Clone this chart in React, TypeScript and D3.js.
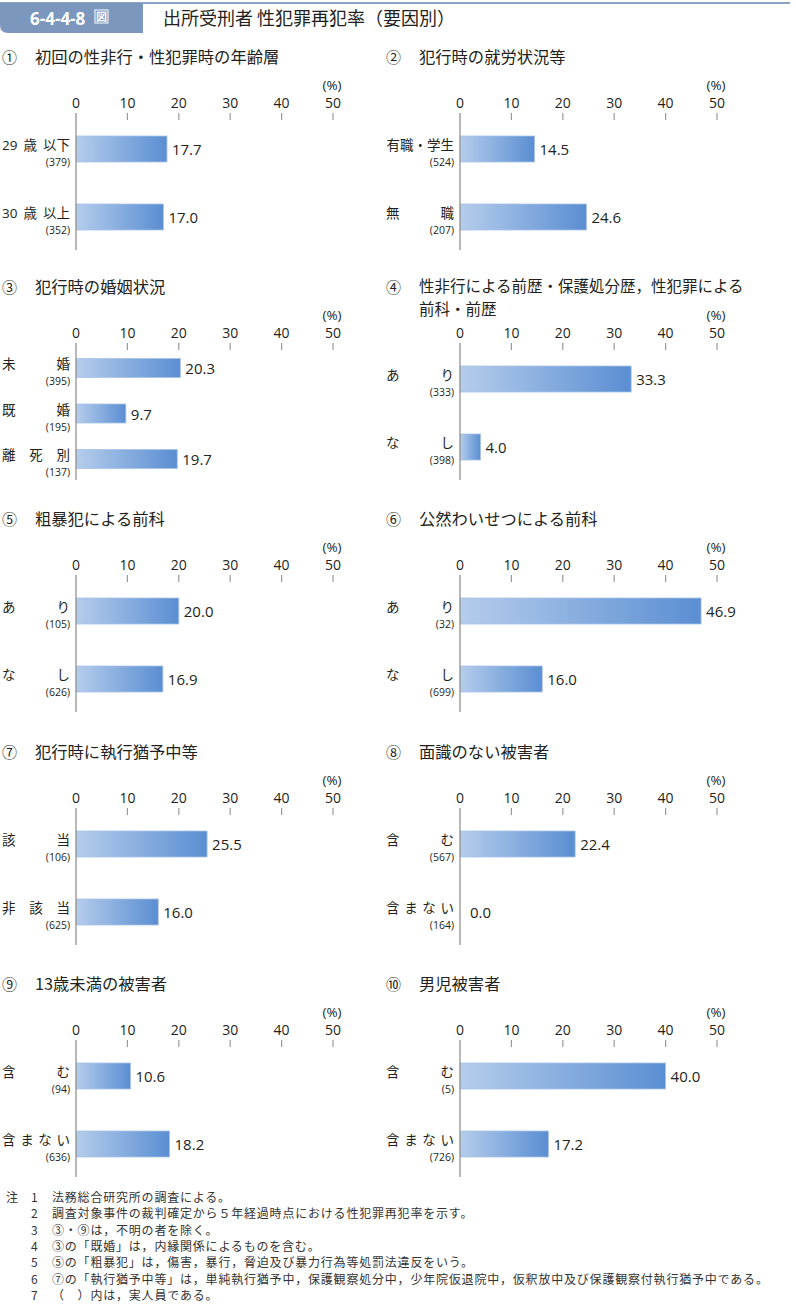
import React from 'react';
import * as d3 from 'd3';

const panelNumbers = ['①', '②', '③', '④', '⑤', '⑥', '⑦', '⑧', '⑨', '⑩'];
const panelTitles = [
  ['初回の性非行・性犯罪時の年齢層'],
  ['犯行時の就労状況等'],
  ['犯行時の婚姻状況'],
  ['性非行による前歴・保護処分歴，性犯罪による', '前科・前歴'],
  ['粗暴犯による前科'],
  ['公然わいせつによる前科'],
  ['犯行時に執行猶予中等'],
  ['面識のない被害者'],
  ['13歳未満の被害者'],
  ['男児被害者'],
];
const panelCategories = [
  [['29', '歳', '以下'], ['30', '歳', '以上']],
  [['有職・学生'], ['無', '職']],
  [['未', '婚'], ['既', '婚'], ['離', '死', '別']],
  [['あ', 'り'], ['な', 'し']],
  [['あ', 'り'], ['な', 'し']],
  [['あ', 'り'], ['な', 'し']],
  [['該', '当'], ['非', '該', '当']],
  [['含', 'む'], ['含', 'ま', 'な', 'い']],
  [['含', 'む'], ['含', 'ま', 'な', 'い']],
  [['含', 'む'], ['含', 'ま', 'な', 'い']],
];
const panelCounts = [
  [379, 352], [524, 207], [395, 195, 137], [333, 398], [105, 626],
  [32, 699], [106, 625], [567, 164], [94, 636], [5, 726],
];
const panelValues = [
  [17.7, 17.0], [14.5, 24.6], [20.3, 9.7, 19.7], [33.3, 4.0], [20.0, 16.9],
  [46.9, 16.0], [25.5, 16.0], [22.4, 0.0], [10.6, 18.2], [40.0, 17.2],
];
const xTicks = [0, 10, 20, 30, 40, 50];
const figureId = '6-4-4-8';
const figureTitle = '出所受刑者 性犯罪再犯率（要因別）';
const noteNumbers = ['1', '2', '3', '4', '5', '6', '7'];
const notes = [
  '法務総合研究所の調査による。',
  '調査対象事件の裁判確定から５年経過時点における性犯罪再犯率を示す。',
  '③・⑨は，不明の者を除く。',
  '③の「既婚」は，内縁関係によるものを含む。',
  '⑤の「粗暴犯」は，傷害，暴行，脅迫及び暴力行為等処罰法違反をいう。',
  '⑦の「執行猶予中等」は，単純執行猶予中，保護観察処分中，少年院仮退院中，仮釈放中及び保護観察付執行猶予中である。',
  '（　）内は，実人員である。',
];

const FONT = '"Noto Sans CJK JP", "Noto Sans", sans-serif';
const NUMFONT = '"Open Sans", "Noto Sans CJK JP", sans-serif';
const TEXT = '#231f20';
const AXIS = '#9a9a9a';

const rowAxisTop = [113, 343, 575, 808, 1040];
const colOffset = [0, 384];

function tokenWidth(t: string, fs: number) {
  let w = 0;
  for (const ch of t) w += /[\x00-\x7f]/.test(ch) ? fs * 0.57 : fs;
  return w;
}

function CategoryLabel({ tokens, L, R, y, fs }: { tokens: string[]; L: number; R: number; y: number; fs: number }) {
  if (tokens.length === 1) {
    return (
      <text x={R} y={y} textAnchor="end" fontSize={fs} fill={TEXT} fontFamily={FONT}>
        {tokens[0]}
      </text>
    );
  }
  const widths = tokens.map((t) => tokenWidth(t, fs));
  const total = d3.sum(widths);
  const gap = (R - L - total) / (tokens.length - 1);
  let cx = L;
  const xs: number[] = [];
  widths.forEach((w) => {
    xs.push(cx);
    cx += w + gap;
  });
  return (
    <g>
      {tokens.map((t, i) => (
        <text
          key={i}
          x={xs[i]}
          y={y}
          fontSize={fs}
          fill={TEXT}
          fontFamily={/^[0-9]+$/.test(t) ? NUMFONT : FONT}
        >
          {t}
        </text>
      ))}
    </g>
  );
}

function Panel({ idx }: { idx: number }) {
  const row = Math.floor(idx / 2);
  const col = idx % 2;
  const ox = colOffset[col];
  const top = rowAxisTop[row];
  const x0 = 76 + ox;
  const x = d3.scaleLinear().domain([0, 50]).range([x0, x0 + 257]);
  const cats = panelCategories[idx];
  const vals = panelValues[idx];
  const counts = panelCounts[idx];
  const keys = cats.map((_, i) => String(i));
  const three = cats.length === 3;
  const y = d3
    .scalePoint<string>()
    .domain(keys)
    .range(three ? [top + 25, top + 116] : [top + 36, top + 104]);
  const barH = three ? 19 : 26;
  const L = 2 + ox;
  const R = 70 + ox;
  const titles = panelTitles[idx];
  const multi = titles.length > 1;
  return (
    <g>
      <text x={2 + ox} y={top - 50} fontSize={15} fill={TEXT} fontFamily={FONT}>
        {panelNumbers[idx]}
      </text>
      {titles.map((t, i) => (
        <text
          key={i}
          x={35 + ox}
          y={multi ? top - 51 + i * 22.5 : top - 50}
          fontSize={multi ? 15.5 : 16.3}
          fill={TEXT}
          fontFamily={FONT}
        >
          {t}
        </text>
      ))}
      <text x={x(50) - 1} y={top - 23} textAnchor="middle" fontSize={13.5} fill={TEXT} fontFamily={NUMFONT}>
        (%)
      </text>
      {xTicks.map((t) => (
        <g key={t}>
          <text x={x(t)} y={top - 5} textAnchor="middle" fontSize={14} fill={TEXT} fontFamily={NUMFONT}>
            {t}
          </text>
          {t > 0 && <line x1={x(t)} x2={x(t)} y1={top} y2={top + 7} stroke={AXIS} strokeWidth={1.2} />}
        </g>
      ))}
      {keys.map((k, i) => {
        const cy = y(k) as number;
        const v = vals[i];
        return (
          <g key={k}>
            {v > 0 && (
              <rect
                x={x(0)}
                y={cy - barH / 2}
                width={x(v) - x(0)}
                height={barH}
                fill="url(#barGrad)"
                stroke="#a9c2e6"
                strokeWidth={0.8}
              />
            )}
            <text x={x(v) + (v > 0 ? 5 : 10)} y={cy + 6} fontSize={15} fill={TEXT} fontFamily={NUMFONT}>
              {v.toFixed(1)}
            </text>
            <CategoryLabel tokens={cats[i]} L={L} R={R} y={cy + 1} fs={13.5} />
            <text x={R} y={cy + 17} textAnchor="end" fontSize={10.5} fill={TEXT} fontFamily={NUMFONT}>
              ({counts[i]})
            </text>
          </g>
        );
      })}
      <line x1={x(0)} x2={x(0)} y1={top} y2={top + 137} stroke={AXIS} strokeWidth={1.4} />
    </g>
  );
}

export default function App() {
  return (
    <svg
      width={796}
      height={1306}
      viewBox="0 0 796 1306"
      style={{ position: 'absolute', left: 0, top: 0, display: 'block', background: '#fff' }}
    >
      <defs>
        <linearGradient id="barGrad" x1="0" x2="1" y1="0" y2="0">
          <stop offset="0%" stopColor="#b5cdec" />
          <stop offset="100%" stopColor="#5a8ed2" />
        </linearGradient>
      </defs>
      <rect x={0} y={0} width={796} height={1306} fill="#fff" />
      <line x1={0} x2={790} y1={3} y2={3} stroke="#8ba4c6" strokeWidth={2} />
      <path d="M0,3 H143 V33 H8 Q0,33 0,25 Z" fill="#7b97be" />
      <text x={30} y={25} fontSize={17} fontWeight="bold" fill="#fff" fontFamily={NUMFONT}>
        {figureId}
      </text>
      <rect x={95} y={10} width={13} height={13} fill="none" stroke="#fff" strokeWidth={1} />
      <text x={101.5} y={21} textAnchor="middle" fontSize={11} fontWeight="bold" fill="#fff" fontFamily={FONT}>
        図
      </text>
      <text x={163} y={25} fontSize={18} fill={TEXT} fontFamily={FONT}>
        {figureTitle}
      </text>
      {panelTitles.map((_, i) => (
        <Panel key={i} idx={i} />
      ))}
      <text x={6} y={1202} fontSize={12} fill="#333" fontFamily={FONT}>
        注
      </text>
      {notes.map((n, i) => (
        <g key={i}>
          <text x={31} y={1202 + i * 16.3} fontSize={12} fill="#333" fontFamily={FONT}>
            {noteNumbers[i]}
          </text>
          <text x={52} y={1202 + i * 16.3} fontSize={12} letterSpacing={0.8} fill="#333" fontFamily={FONT}>
            {n}
          </text>
        </g>
      ))}
    </svg>
  );
}
